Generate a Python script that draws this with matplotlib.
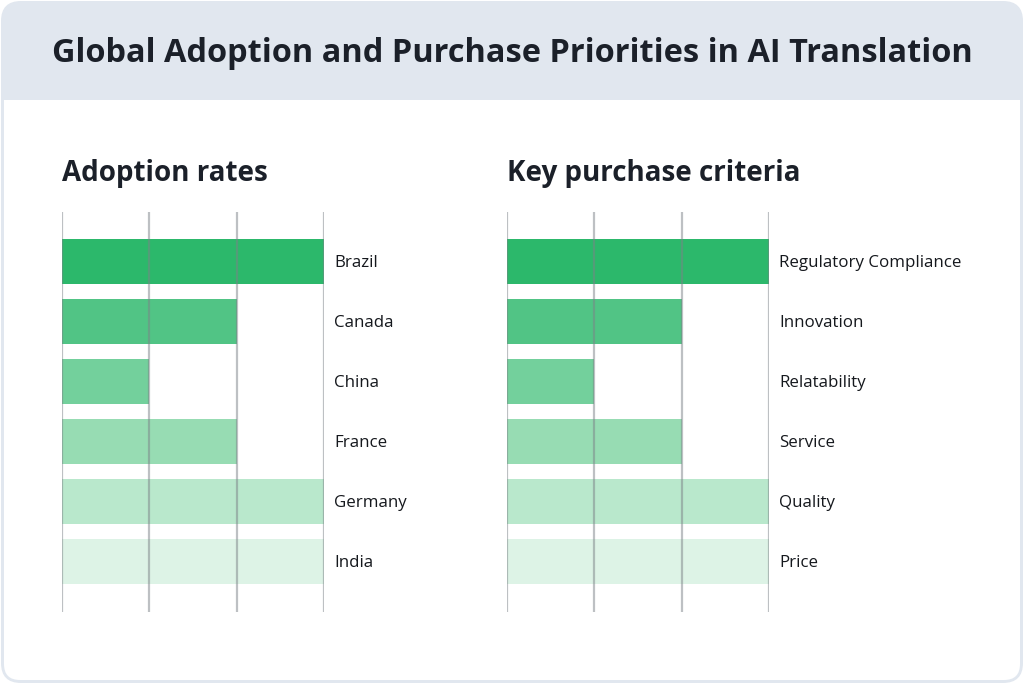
import matplotlib.pyplot as plt
from matplotlib.patches import FancyBboxPatch, Rectangle

title = "Global Adoption and Purchase Priorities in AI Translation"

left_title = "Adoption rates"
countries = ["Brazil", "Canada", "China", "France", "Germany", "India"]
adoption = [3, 2, 1, 2, 3, 3]

right_title = "Key purchase criteria"
criteria = ["Regulatory Compliance", "Innovation", "Relatability", "Service", "Quality", "Price"]
criteria_scores = [3, 2, 1, 2, 3, 3]

bar_colors = ["#2cb86b", "#51c485", "#73d09c", "#97dcb3", "#b9e8cc", "#ddf3e6"]

header_color = "#e1e7ef"
text_color = "#1b2029"
W, H = 1024, 684

plt.rcParams["font.family"] = ["Open Sans", "DejaVu Sans"]

fig = plt.figure(figsize=(W / 100, H / 100), dpi=100)

# background card drawn in pixel coordinates
bg = fig.add_axes([0, 0, 1, 1], zorder=-1)
bg.set_xlim(0, W)
bg.set_ylim(H, 0)
bg.axis("off")
bg.add_patch(FancyBboxPatch((1, 1), W - 2, H - 2, boxstyle="round,pad=0,rounding_size=20",
                            fc=header_color, ec="none"))
bg.add_patch(FancyBboxPatch((4, 100), W - 8, H - 104, boxstyle="round,pad=0,rounding_size=16",
                            fc="white", ec="none"))
bg.add_patch(Rectangle((4, 100), W - 8, 40, fc="white", ec="none"))
bg.text(W / 2, 53, title, ha="center", va="center", fontsize=23.4, fontweight="bold", color=text_color)


def panel(x0, heading, labels, values):
    ax = fig.add_axes([x0 / W, 1 - 612 / H, 262 / W, 400 / H])
    y = range(len(labels))
    ax.barh(y, values, height=0.75, color=bar_colors, zorder=1)
    ax.set_xlim(0, 3)
    ax.set_ylim(5.85, -0.82)
    ax.set_xticks([0, 1, 2, 3])
    ax.grid(axis="x", color="#7d8288", alpha=0.5, linewidth=1.6, zorder=2)
    ax.set_axisbelow(False)
    ax.tick_params(length=0, labelbottom=False, labelleft=False)
    for s in ax.spines.values():
        s.set_visible(False)
    for yi, lab in zip(y, labels):
        ax.annotate(lab, (3, yi), xytext=(7.2, -1.5), textcoords="offset points",
                    ha="left", va="center", fontsize=12.2, color="#15181d",
                    annotation_clip=False)
    bg.text(x0, 174, heading, ha="left", va="center", fontsize=20,
            fontweight="bold", color=text_color)


panel(62, left_title, countries, adoption)
panel(507, right_title, criteria, criteria_scores)

fig.savefig("out.png", dpi=100)
